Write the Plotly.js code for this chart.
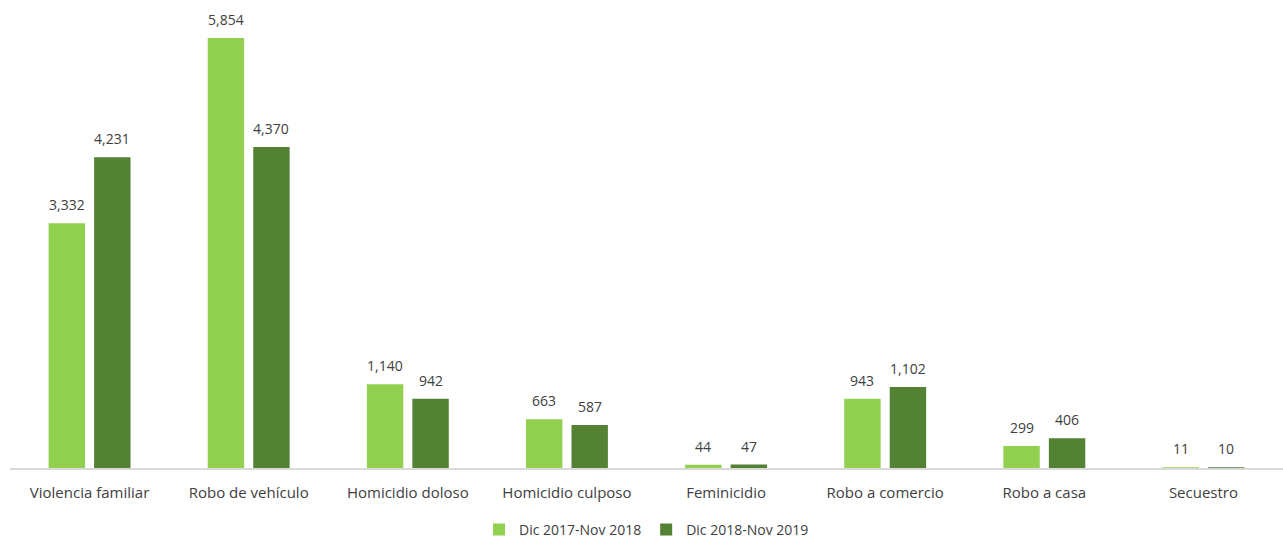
<!DOCTYPE html>
<html>
<head>
<meta charset="utf-8">
<script src="https://cdn.plot.ly/plotly-3.0.1.min.js"></script>
<style>html,body{margin:0;padding:0;background:#fff;}#chart{width:1283px;height:540px;}</style>
</head>
<body>
<div id="chart"></div>
<script>
const categories = ["Violencia familiar","Robo de vehículo","Homicidio doloso","Homicidio culposo","Feminicidio","Robo a comercio","Robo a casa","Secuestro"];
const seriesNames = ["Dic 2017-Nov 2018","Dic 2018-Nov 2019"];
const values2018 = [3332, 5854, 1140, 663, 44, 943, 299, 11];
const values2019 = [4231, 4370, 942, 587, 47, 1102, 406, 10];
const colors = ["#92D050", "#548235"];

function fmt(v){ return v.toLocaleString('en-US'); }

const series = [values2018, values2019];
const traces = series.map((vals, i) => ({
  type: 'bar',
  name: seriesNames[i],
  x: categories,
  y: vals,
  marker: {color: colors[i]},
  hoverinfo: 'x+y'
}));

const W = 1283, ml = 10, mr = 0;
const bargap = 0.428;
const slotPx = (W - ml - mr) / categories.length * (1 - bargap) / 2;

const annotations = [];
series.forEach((vals, i) => {
  vals.forEach((v, j) => {
    annotations.push({
      x: categories[j], y: v, xref: 'x', yref: 'y',
      text: fmt(v), showarrow: false,
      xanchor: 'center', yanchor: 'bottom',
      xshift: (i === 0 ? -1 : 1) * slotPx / 2,
      yshift: 7,
      font: {family: 'Open Sans, sans-serif', size: 14, color: '#404040'}
    });
  });
});

const layout = {
  width: W, height: 540,
  margin: {l: ml, r: mr, t: 10, b: 72, autoexpand: false},
  paper_bgcolor: '#fff', plot_bgcolor: '#fff',
  barmode: 'group',
  bargap: bargap,
  bargroupgap: 0.2,
  font: {family: 'Open Sans, sans-serif', color: '#404040'},
  xaxis: {
    showline: true, linecolor: '#d9d9d9', linewidth: 1.5,
    ticks: '', showgrid: false, automargin: false,
    ticklabelstandoff: 10,
    tickfont: {family: 'Open Sans, sans-serif', size: 15, color: '#404040'}
  },
  yaxis: {
    range: [0, 6235], showgrid: false, zeroline: false,
    showticklabels: false, ticks: ''
  },
  annotations: annotations,
  showlegend: true,
  legend: {
    orientation: 'h', x: 0.5, xanchor: 'center', y: -0.135, yanchor: 'middle',
    font: {family: 'Open Sans, sans-serif', size: 14, color: '#404040'},
    itemwidth: 30, tracegroupgap: 0
  }
};

Plotly.newPlot('chart', traces, layout, {displayModeBar: false, staticPlot: true});
</script>
</body>
</html>
